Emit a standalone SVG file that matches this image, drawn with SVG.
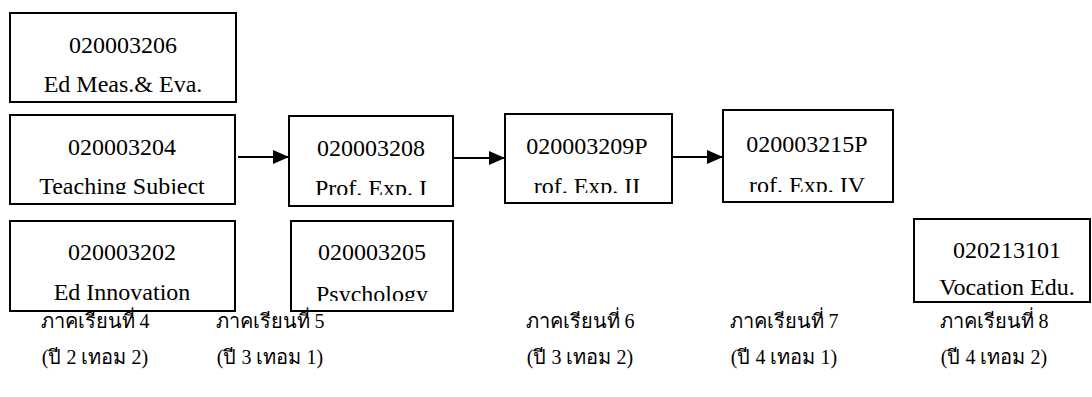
<svg xmlns="http://www.w3.org/2000/svg" width="1092" height="397" viewBox="0 0 1092 397">
<style>
.box{fill:#fff;stroke:#000;stroke-width:2}
.t{font-family:"Liberation Serif","Times New Roman",serif;font-size:24px;fill:#000;text-anchor:middle}
.th{font-family:"Liberation Serif","DejaVu Serif","Noto Sans",serif;font-size:20px;fill:#000;text-anchor:middle}
.conn{stroke:#000;stroke-width:2;fill:none}
</style>
<defs>
<marker id="ah" markerWidth="16" markerHeight="14" refX="16" refY="7" orient="auto" markerUnits="userSpaceOnUse">
<path d="M0,0 L16,7 L0,14 Z" fill="#000"/>
</marker>
<clipPath id="c2"><rect x="10" y="115" width="225" height="79"/></clipPath>
<clipPath id="c4"><rect x="289" y="116" width="164" height="79"/></clipPath>
<clipPath id="c5"><rect x="291" y="221" width="162" height="80"/></clipPath>
<clipPath id="c6"><rect x="505" y="114" width="167" height="79"/></clipPath>
<clipPath id="c7"><rect x="723" y="110" width="170" height="82"/></clipPath>
</defs>
<g id="connectors">
<line class="conn" x1="238" y1="157" x2="289" y2="157" marker-end="url(#ah)"/>
<line class="conn" x1="453" y1="158" x2="505" y2="158" marker-end="url(#ah)"/>
<line class="conn" x1="672" y1="157" x2="723" y2="157" marker-end="url(#ah)"/>
</g>
<g id="n206">
<rect class="box" x="10" y="13" width="226" height="89"/>
<text class="t" x="123" y="53">020003206</text>
<text class="t" x="123" y="92">Ed Meas.&amp; Eva.</text>
</g>
<g id="n204">
<rect class="box" x="10" y="115" width="225" height="89"/>
<text class="t" x="122" y="155">020003204</text>
<text class="t" x="122" y="194" clip-path="url(#c2)">Teaching Subject</text>
</g>
<g id="n202">
<rect class="box" x="10" y="221" width="225" height="90"/>
<text class="t" x="122" y="260">020003202</text>
<text class="t" x="122" y="300">Ed Innovation</text>
</g>
<g id="n208">
<rect class="box" x="289" y="116" width="164" height="90"/>
<text class="t" x="371" y="156">020003208</text>
<text class="t" x="371" y="196" clip-path="url(#c4)">Prof. Exp. I</text>
</g>
<g id="n205">
<rect class="box" x="291" y="221" width="162" height="90"/>
<text class="t" x="372" y="260">020003205</text>
<text class="t" x="372" y="302" clip-path="url(#c5)">Psychology</text>
</g>
<g id="n209">
<rect class="box" x="505" y="114" width="167" height="89"/>
<text class="t" x="587" y="154">020003209P</text>
<text class="t" x="587" y="194" clip-path="url(#c6)">rof. Exp. II</text>
</g>
<g id="n215">
<rect class="box" x="723" y="110" width="170" height="92"/>
<text class="t" x="807" y="152">020003215P</text>
<text class="t" x="807" y="193" clip-path="url(#c7)">rof. Exp. IV</text>
</g>
<g id="n101">
<rect class="box" x="914" y="219" width="176" height="83"/>
<text class="t" x="1007" y="258">020213101</text>
<text class="t" x="1007" y="295">Vocation Edu.</text>
</g>
<g id="labels">
<text class="th" x="95" y="328">ภาคเรียนที่ 4</text>
<text class="th" x="95" y="364">(ปี 2 เทอม 2)</text>
<text class="th" x="270" y="328">ภาคเรียนที่ 5</text>
<text class="th" x="270" y="364">(ปี 3 เทอม 1)</text>
<text class="th" x="580" y="328">ภาคเรียนที่ 6</text>
<text class="th" x="580" y="364">(ปี 3 เทอม 2)</text>
<text class="th" x="784" y="328">ภาคเรียนที่ 7</text>
<text class="th" x="784" y="364">(ปี 4 เทอม 1)</text>
<text class="th" x="994" y="328">ภาคเรียนที่ 8</text>
<text class="th" x="994" y="364">(ปี 4 เทอม 2)</text>
</g>
</svg>
